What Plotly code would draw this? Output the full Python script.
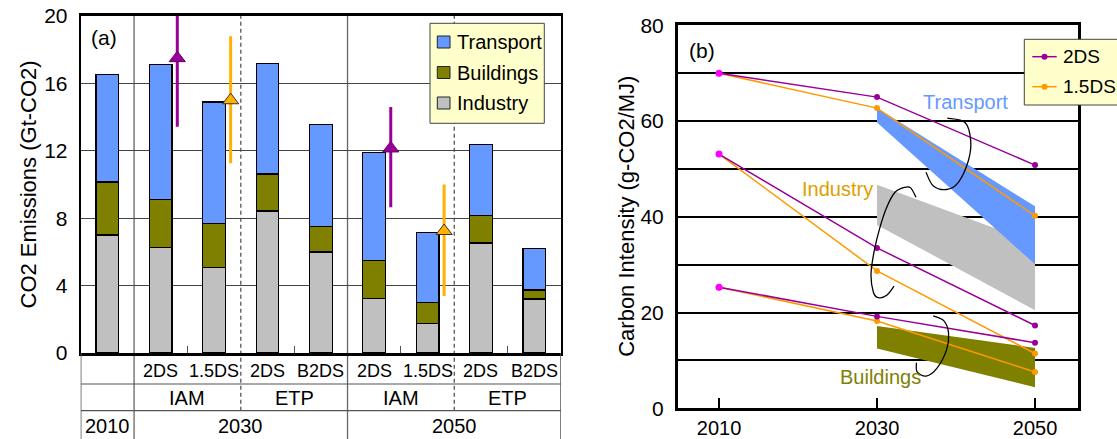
import plotly.graph_objects as go

# ---------------- data: panel (a) ----------------
bar_year = ["2010", "2030", "2030", "2030", "2030", "2050", "2050", "2050", "2050"]
bar_model = ["", "IAM", "IAM", "ETP", "ETP", "IAM", "IAM", "ETP", "ETP"]
bar_scen = ["", "2DS", "1.5DS", "2DS", "B2DS", "2DS", "1.5DS", "2DS", "B2DS"]

industry = [7.0, 6.25, 5.08, 8.43, 6.0, 3.25, 1.76, 6.53, 3.2]
buildings = [3.15, 2.87, 2.62, 2.19, 1.5, 2.25, 1.23, 1.64, 0.54]
transport = [6.4, 7.98, 7.2, 6.55, 6.07, 6.4, 4.15, 4.21, 2.45]

# IAM ranges (marker = median, line = range)
iam_2ds_bar = [1, 5]
iam_2ds_mid = [17.5, 12.14]
iam_2ds_hi = [20.0, 14.6]
iam_2ds_lo = [13.43, 8.65]
iam_15_bar = [2, 6]
iam_15_mid = [15.0, 7.24]
iam_15_hi = [18.8, 10.0]
iam_15_lo = [11.26, 3.38]

# ---------------- data: panel (b) ----------------
years = [2010, 2030, 2050]
transport_2ds = [70.0, 65.0, 50.8]
transport_15ds = [70.0, 62.7, 40.2]
industry_2ds = [53.1, 33.5, 17.3]
industry_15ds = [53.1, 28.7, 11.45]
buildings_2ds = [25.3, 19.2, 13.7]
buildings_15ds = [25.3, 18.25, 7.6]

band_years = [2030, 2050]
transport_band_hi = [62.7, 42.2]
transport_band_lo = [59.7, 30.1]
industry_band_hi = [46.7, 34.5]
industry_band_lo = [38.3, 20.5]
buildings_band_hi = [17.2, 12.6]
buildings_band_lo = [12.5, 4.4]

# ---------------- style ----------------
FONT = "Liberation Sans, Arial, sans-serif"
C_TRANS = "#6699FF"
C_BUILD = "#808000"
C_IND = "#C0C0C0"
C_PURPLE = "#990099"
C_ORANGE = "#FFB000"
C_ORANGE_B = "#FF9900"
W, H = 1117, 439


def px_x(p):
    return p / W


def px_y(p):
    return 1 - p / H


fig = go.Figure()
xpos = list(range(len(bar_scen)))

for name, vals, col in [("Industry", industry, C_IND),
                        ("Buildings", buildings, C_BUILD),
                        ("Transport", transport, C_TRANS)]:
    fig.add_trace(go.Bar(x=xpos, y=vals, name=name, width=0.425,
                         marker=dict(color=col, line=dict(color="black", width=1.2)),
                         xaxis="x", yaxis="y"))

for idx, mid, hi, lo, col, edge in [
        (iam_2ds_bar, iam_2ds_mid, iam_2ds_hi, iam_2ds_lo, C_PURPLE, "#660066"),
        (iam_15_bar, iam_15_mid, iam_15_hi, iam_15_lo, C_ORANGE, "#333333")]:
    fig.add_trace(go.Scatter(
        x=[i + 0.31 for i in idx], y=mid, mode="markers",
        marker=dict(symbol="triangle-up", size=14, color=col, line=dict(color=edge, width=1)),
        error_y=dict(type="data", symmetric=False,
                     array=[h - m for h, m in zip(hi, mid)],
                     arrayminus=[m - l for m, l in zip(mid, lo)],
                     width=0, thickness=3, color=col),
        xaxis="x", yaxis="y"))

# panel (b) bands
for hi, lo, col in [(industry_band_hi, industry_band_lo, C_IND),
                    (transport_band_hi, transport_band_lo, C_TRANS),
                    (buildings_band_hi, buildings_band_lo, C_BUILD)]:
    fig.add_trace(go.Scatter(x=band_years + band_years[::-1], y=hi + lo[::-1],
                             fill="toself", fillcolor=col, mode="lines",
                             line=dict(width=0, color=col),
                             hoverinfo="skip", xaxis="x2", yaxis="y2"))

for series, col in [((transport_15ds, industry_15ds, buildings_15ds), C_ORANGE_B),
                    ((transport_2ds, industry_2ds, buildings_2ds), C_PURPLE)]:
    for s in series:
        fig.add_trace(go.Scatter(x=years, y=s, mode="lines+markers",
                                 line=dict(color=col, width=1.5),
                                 marker=dict(size=6, color=col),
                                 xaxis="x2", yaxis="y2"))

fig.add_trace(go.Scatter(x=[years[0]] * 3,
                         y=[transport_2ds[0], industry_2ds[0], buildings_2ds[0]],
                         mode="markers", marker=dict(size=7, color="#FF00FF"),
                         xaxis="x2", yaxis="y2"))

# ---------------- layout ----------------
x_dom = [px_x(80.7), px_x(561)]
y_dom = [px_y(353), px_y(16)]
x2_dom = [px_x(677.7), px_x(1078)]
y2_dom = [px_y(408.3), px_y(25.3)]

fig.update_layout(
    template="none",
    width=W, height=H, margin=dict(l=0, r=0, t=0, b=0, pad=0),
    paper_bgcolor="white", plot_bgcolor="white",
    font=dict(family=FONT, size=20, color="black"),
    barmode="stack", showlegend=False,
    xaxis=dict(domain=x_dom, range=[-0.5, 8.5], tickvals=[1.5, 3.5, 5.5, 7.5],
               ticks="inside", ticklen=7, tickcolor="#555", showticklabels=False,
               showgrid=False, zeroline=False, showline=True, linecolor="black",
               linewidth=2.5, mirror=True, anchor="y", automargin=False),
    yaxis=dict(domain=y_dom, range=[0, 20], tickvals=[0, 4, 8, 12, 16, 20],
               showgrid=True, gridcolor="#444", gridwidth=1.2, zeroline=False,
               showline=True, linecolor="black", linewidth=2, mirror=True,
               ticks="", ticklabelstandoff=7, tickfont=dict(size=21),
               anchor="x", automargin=False),
    xaxis2=dict(domain=x2_dom, range=[2004.77, 2055.44], tickvals=years,
                ticks="inside", ticklen=11, tickwidth=2, tickcolor="black",
                showgrid=False, zeroline=False, showline=True, linecolor="black",
                linewidth=2.5, mirror=True, ticklabelstandoff=0,
                tickfont=dict(size=20), anchor="y2", automargin=False),
    yaxis2=dict(domain=y2_dom, range=[0, 80], tickvals=list(range(0, 81, 10)),
                ticktext=[str(v) if v % 20 == 0 else "" for v in range(0, 81, 10)],
                showgrid=True, gridcolor="black", gridwidth=1.5, zeroline=False,
                showline=True, linecolor="black", linewidth=2.5, mirror=True,
                ticks="", ticklabelstandoff=7, tickfont=dict(size=21),
                anchor="x2", automargin=False),
)

shapes = []
bottom_tab = px_y(353)
row1 = px_y(384)
row2 = px_y(410.7)
# separators between year groups (solid) and models (dashed)
for xv in [0.5, 4.5]:
    shapes.append(dict(type="line", xref="x", yref="paper", x0=xv, x1=xv, y0=0, y1=y_dom[1],
                       line=dict(color="#666", width=1.3), layer="between"))
for xv in [2.5, 6.5]:
    shapes.append(dict(type="line", xref="x", yref="paper", x0=xv, x1=xv, y0=row2, y1=y_dom[1],
                       line=dict(color="#555", width=1.3, dash="4px,3px"), layer="between"))
for yv in [row1, row2]:
    shapes.append(dict(type="line", xref="x", yref="paper", x0=-0.5, x1=8.5, y0=yv, y1=yv,
                       line=dict(color="#555", width=1.2)))
for xv in [-0.5, 8.5]:
    shapes.append(dict(type="line", xref="x", yref="paper", x0=xv, x1=xv, y0=0, y1=bottom_tab,
                       line=dict(color="#555", width=1.5)))


def smooth_path(pts):
    d = f"M {pts[0][0]},{pts[0][1]}"
    for i in range(len(pts) - 1):
        p0 = pts[i - 1] if i > 0 else pts[i]
        p1, p2 = pts[i], pts[i + 1]
        p3 = pts[i + 2] if i + 2 < len(pts) else p2
        c1 = (p1[0] + (p2[0] - p0[0]) / 6, p1[1] + (p2[1] - p0[1]) / 6)
        c2 = (p2[0] - (p3[0] - p1[0]) / 6, p2[1] - (p3[1] - p1[1]) / 6)
        d += f" C {c1[0]:.3f},{c1[1]:.3f} {c2[0]:.3f},{c2[1]:.3f} {p2[0]:.3f},{p2[1]:.3f}"
    return d


# hand-drawn style callout loops in panel (b)
loops = [
    [(2038.9, 60.6), (2041.14, 59.7), (2041.86, 55.9), (2041.56, 51.7), (2040.3, 47.2),
     (2038.8, 45.7), (2037.1, 46.5), (2036.2, 49.3)],
    [(2034.94, 44.08), (2034.26, 46.04), (2033.54, 46.17), (2032.28, 45.13), (2031.23, 42.0),
     (2030.38, 37.83), (2029.66, 32.98), (2029.24, 28.1), (2029.53, 24.3), (2030.16, 23.1),
     (2031.23, 23.6), (2032.15, 25.5)],
    [(2037.11, 19.3), (2038.47, 18.25), (2039.06, 15.6), (2038.79, 12.15), (2037.57, 8.33),
     (2036.22, 6.73), (2035.08, 7.63), (2034.99, 9.5)],
]
for pts in loops:
    shapes.append(dict(type="path", xref="x2", yref="y2", path=smooth_path(pts),
                       line=dict(color="black", width=1.3)))

ann = []

# legend of panel (a)
shapes.append(dict(type="rect", xref="paper", yref="paper",
                   x0=px_x(430), x1=px_x(544.3), y0=px_y(123.3), y1=px_y(23.3),
                   fillcolor="#FFFFCC", line=dict(color="#444", width=1)))
for k, (name, col) in enumerate([("Transport", C_TRANS), ("Buildings", C_BUILD),
                                 ("Industry", C_IND)]):
    cy = 42 + 30.5 * k
    shapes.append(dict(type="rect", xref="paper", yref="paper",
                       x0=px_x(437.3), x1=px_x(450), y0=px_y(cy + 6), y1=px_y(cy - 6),
                       fillcolor=col, line=dict(color="#222", width=1)))
    ann.append(dict(x=px_x(455), y=px_y(cy), xref="paper", yref="paper", text=name,
                    xanchor="left", yanchor="middle", showarrow=False))

# legend of panel (b)
shapes.append(dict(type="rect", xref="paper", yref="paper",
                   x0=px_x(1024.3), x1=px_x(1140), y0=px_y(105), y1=px_y(39.3),
                   fillcolor="#FFFFCC", line=dict(color="#444", width=1)))
for k, (name, col) in enumerate([("2DS", C_PURPLE), ("1.5DS", C_ORANGE_B)]):
    cy = 56.7 + 30 * k
    shapes.append(dict(type="line", xref="paper", yref="paper",
                       x0=px_x(1032.3), x1=px_x(1056.7), y0=px_y(cy), y1=px_y(cy),
                       line=dict(color=col, width=1.5)))
    shapes.append(dict(type="circle", xref="paper", yref="paper",
                       x0=px_x(1041.5), x1=px_x(1047.5), y0=px_y(cy + 3), y1=px_y(cy - 3),
                       fillcolor=col, line=dict(color=col, width=0)))
    ann.append(dict(x=px_x(1061), y=px_y(cy), xref="paper", yref="paper", text=name,
                    xanchor="left", yanchor="middle", showarrow=False, font=dict(size=19)))

fig.update_layout(shapes=shapes)

# table under panel (a)
tab = []
for i, s in enumerate(bar_scen):
    if s:
        tab.append(dict(x=i, y=px_y(371), text=s, font=dict(size=18)))
groups = {}
for i, (y, m) in enumerate(zip(bar_year, bar_model)):
    if m:
        groups.setdefault((y, m), []).append(i)
for (y, m), idx in groups.items():
    tab.append(dict(x=sum(idx) / len(idx), y=px_y(398), text=m))
ygroups = {}
for i, y in enumerate(bar_year):
    ygroups.setdefault(y, []).append(i)
for y, idx in ygroups.items():
    tab.append(dict(x=(idx[0] + idx[-1]) / 2, y=px_y(426), text=y))
for a in tab:
    a.update(xref="x", yref="paper")
ann += tab

ann += [
    dict(x=px_x(104), y=px_y(37), xref="paper", yref="paper", text="(a)", font=dict(size=21)),
    dict(x=px_x(702), y=px_y(50), xref="paper", yref="paper", text="(b)", font=dict(size=21)),
    dict(x=px_x(28), y=(y_dom[0] + y_dom[1]) / 2, xref="paper", yref="paper",
         text="CO2 Emissions (Gt-CO2)", textangle=-90, font=dict(size=22)),
    dict(x=px_x(627), y=(y2_dom[0] + y2_dom[1]) / 2, xref="paper", yref="paper",
         text="Carbon Intensity (g-CO2/MJ)", textangle=-90, font=dict(size=22)),
    dict(x=2041.25, y=63.9, xref="x2", yref="y2", text="Transport", font=dict(color=C_TRANS)),
    dict(x=2024.94, y=45.9, xref="x2", yref="y2", text="Industry", font=dict(color="#DDA000")),
    dict(x=2030.38, y=6.6, xref="x2", yref="y2", text="Buildings", font=dict(color=C_BUILD)),
]
for a in ann:
    a.setdefault("xanchor", "center")
    a.setdefault("yanchor", "middle")
    a["showarrow"] = False
fig.update_layout(annotations=ann)

fig.write_html("out.html", config={"displayModeBar": False},
               post_script="document.body.style.margin='0';document.body.style.padding='0';"
                           "document.body.style.overflow='hidden';")
